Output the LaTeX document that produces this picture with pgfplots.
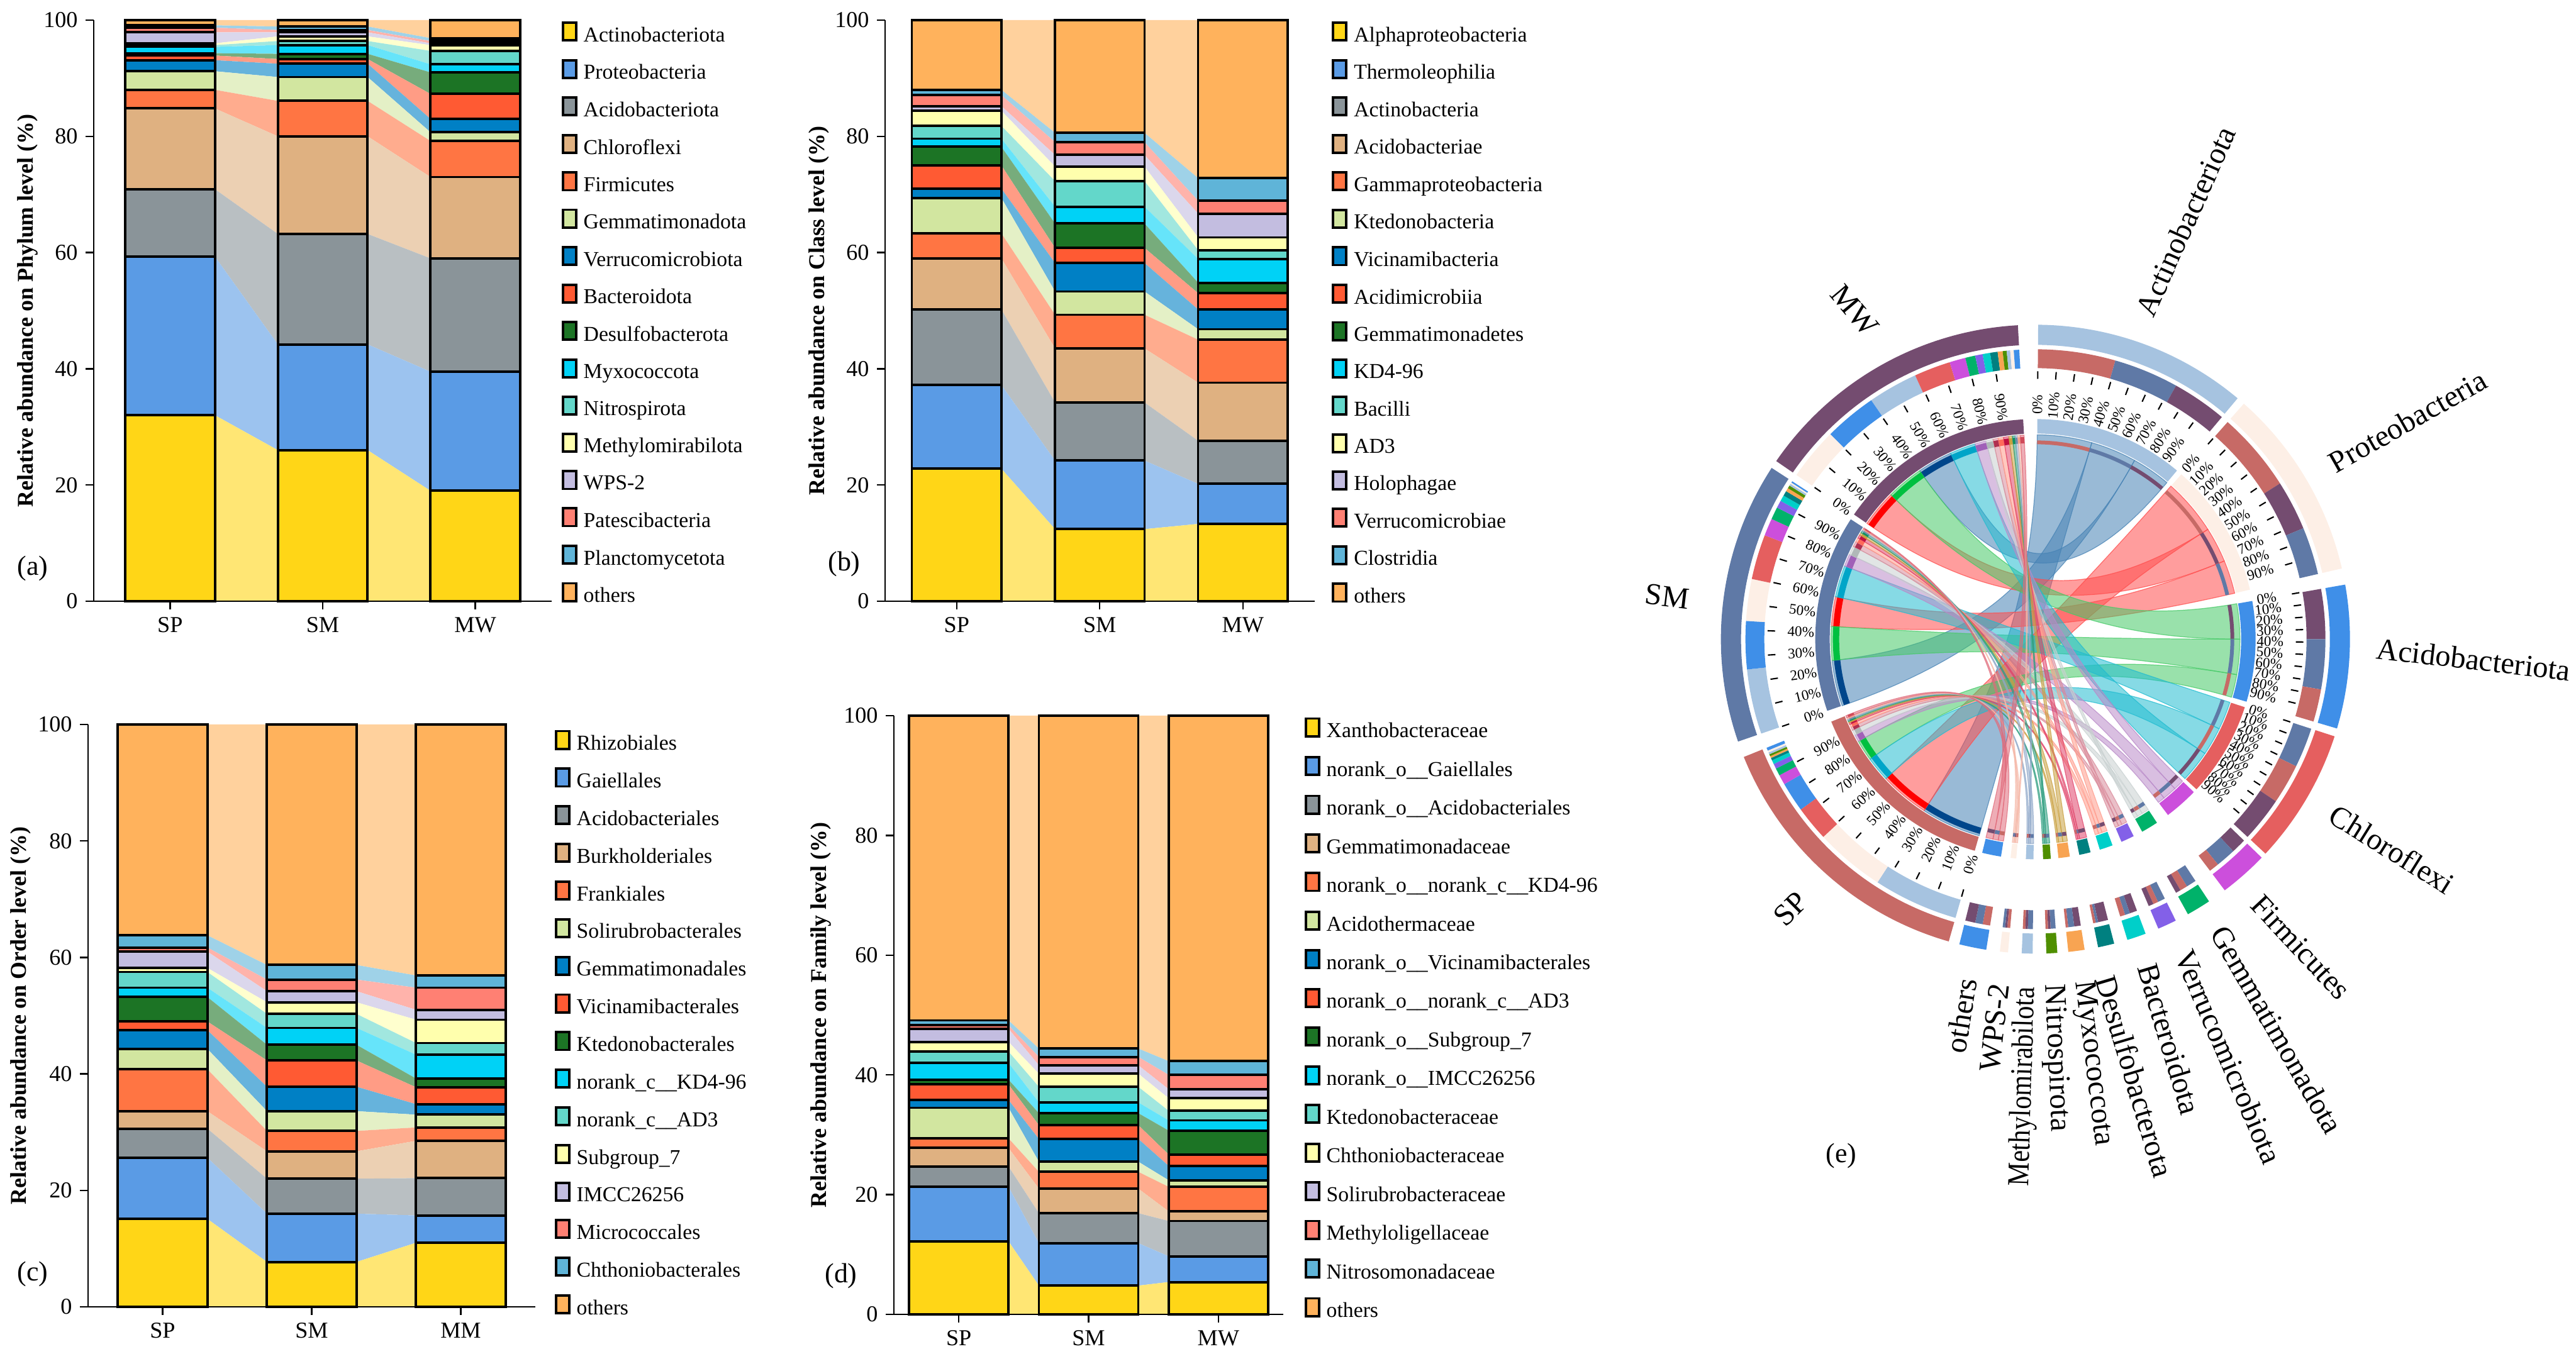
\documentclass[border=0pt]{standalone}
\usepackage{fontspec}
\setmainfont{Liberation Serif}
\usepackage{pgfplots}
\usepackage{pgfplotstable}
\pgfplotsset{compat=1.18}

% stacked bar colours, bottom to top
\definecolor{c1}{HTML}{FFD617}
\definecolor{c2}{HTML}{5A9BE5}
\definecolor{c3}{HTML}{8A9499}
\definecolor{c4}{HTML}{DFB181}
\definecolor{c5}{HTML}{FF7543}
\definecolor{c6}{HTML}{D2E6A0}
\definecolor{c7}{HTML}{0080C5}
\definecolor{c8}{HTML}{FF5A33}
\definecolor{c9}{HTML}{1C7425}
\definecolor{c10}{HTML}{00D2F6}
\definecolor{c11}{HTML}{63D7CA}
\definecolor{c12}{HTML}{FFFFAD}
\definecolor{c13}{HTML}{C3BDE0}
\definecolor{c14}{HTML}{FF8073}
\definecolor{c15}{HTML}{5FB4D8}
\definecolor{c16}{HTML}{FFB25C}

% chord colours
\definecolor{ringSP}{HTML}{C76A66}
\definecolor{ringSM}{HTML}{5F79A6}
\definecolor{ringMW}{HTML}{744C70}
\definecolor{ringAc}{HTML}{A6C3E0}\definecolor{chordAc}{HTML}{4682B4}\definecolor{stripAc}{HTML}{00468B}
\definecolor{ringPr}{HTML}{FDEFE6}\definecolor{chordPr}{HTML}{FF4D4D}\definecolor{stripPr}{HTML}{FF0000}
\definecolor{ringAd}{HTML}{3F8FE8}\definecolor{chordAd}{HTML}{45C966}\definecolor{stripAd}{HTML}{00C040}
\definecolor{ringCh}{HTML}{E55F5F}\definecolor{chordCh}{HTML}{22BCD0}\definecolor{stripCh}{HTML}{00A5C8}
\definecolor{ringFi}{HTML}{CC4FDC}\definecolor{chordFi}{HTML}{B98AC8}\definecolor{stripFi}{HTML}{A060B8}
\definecolor{ringGe}{HTML}{00B26A}\definecolor{chordGe}{HTML}{C8D0D0}\definecolor{stripGe}{HTML}{B0B8B8}
\definecolor{ringVe}{HTML}{8360E8}\definecolor{chordVe}{HTML}{D98A9A}\definecolor{stripVe}{HTML}{B03050}
\definecolor{ringBa}{HTML}{00CFC9}\definecolor{chordBa}{HTML}{FF9A8A}\definecolor{stripBa}{HTML}{FF6A5A}
\definecolor{ringDe}{HTML}{008080}\definecolor{chordDe}{HTML}{E0446A}\definecolor{stripDe}{HTML}{C01040}
\definecolor{ringMy}{HTML}{F8A452}\definecolor{chordMy}{HTML}{C9A040}\definecolor{stripMy}{HTML}{C9A040}
\definecolor{ringNi}{HTML}{4F8F00}\definecolor{chordNi}{HTML}{2E9E7F}\definecolor{stripNi}{HTML}{109060}
\definecolor{ringMe}{HTML}{A6C3E0}\definecolor{chordMe}{HTML}{8FA8C9}\definecolor{stripMe}{HTML}{6F88A9}
\definecolor{ringWp}{HTML}{FDEFE6}\definecolor{chordWp}{HTML}{F5B8A8}\definecolor{stripWp}{HTML}{F5A088}
\definecolor{ringOt}{HTML}{3F8FE8}\definecolor{chordOt}{HTML}{E06A7A}\definecolor{stripOt}{HTML}{D04A5A}

% each table: rows SP, SM, SM, MW (SM twice for the bands), xb = bar position, side = edge used by the band
\pgfplotstableread{
xb side s1 s2 s3 s4 s5 s6 s7 s8 s9 s10 s11 s12 s13 s14 s15 s16
0 1 32 27.3 11.6 13.9 3.2 3.2 1.9 0.8 0.4 1.1 0.3 0.3 1.9 0.8 0.4 0.9
1 -1 26 18.2 19 16.8 6.1 4.1 2.3 0.8 0.9 1.5 0.7 0.8 0.7 0.4 0.6 1.1
1 1 26 18.2 19 16.8 6.1 4.1 2.3 0.8 0.9 1.5 0.7 0.8 0.7 0.4 0.6 1.1
2 -1 19 20.5 19.5 14 6.2 1.5 2.3 4.3 3.7 1.4 2.3 1 0.3 0.4 0.5 3.1
}\tabA
\pgfplotstableread{
xb side s1 s2 s3 s4 s5 s6 s7 s8 s9 s10 s11 s12 s13 s14 s15 s16
0 1 22.8 14.4 13 8.8 4.3 6.1 1.6 4 3.2 1.4 2.2 2.6 0.8 1.9 0.9 12
1 -1 12.4 11.8 10 9.3 5.8 4 4.9 2.6 4.2 2.9 4.4 2.5 2 2.2 1.6 19.4
1 1 12.4 11.8 10 9.3 5.8 4 4.9 2.6 4.2 2.9 4.4 2.5 2 2.2 1.6 19.4
2 -1 13.3 6.9 7.4 10 7.4 1.8 3.4 2.8 1.8 4.1 1.5 2.2 4.1 2.2 3.9 27.2
}\tabB
\pgfplotstableread{
xb side s1 s2 s3 s4 s5 s6 s7 s8 s9 s10 s11 s12 s13 s14 s15 s16
0 1 15.1 10.5 5 3 7.2 3.5 3.2 1.5 4.2 1.6 2.7 0.7 2.8 0.7 2.1 36.2
1 -1 7.7 8.3 6 4.7 3.5 3.4 4.2 4.5 2.7 2.9 2.4 2 1.9 2 2.5 41.3
1 1 7.7 8.3 6 4.7 3.5 3.4 4.2 4.5 2.7 2.9 2.4 2 1.9 2 2.5 41.3
2 -1 11 4.7 6.4 6.4 2.3 2.2 1.8 2.9 1.5 4.1 2 4 1.7 3.8 2.1 43.1
}\tabC
\pgfplotstableread{
xb side s1 s2 s3 s4 s5 s6 s7 s8 s9 s10 s11 s12 s13 s14 s15 s16
0 1 12.2 9.1 3.4 3.1 1.6 5.1 1.3 2.6 0.8 2.8 1.9 1.6 2.2 0.6 0.8 50.9
1 -1 4.8 7.1 5 4.1 2.8 1.7 3.8 2.3 2 1.8 2.6 2.2 1.4 1.4 1.4 55.6
1 1 4.8 7.1 5 4.1 2.8 1.7 3.8 2.3 2 1.8 2.6 2.2 1.4 1.4 1.4 55.6
2 -1 5.4 4.3 5.9 1.6 4.1 1.1 2.4 1.9 4 1.7 1.6 2.1 1.5 2.4 2.3 57.7
}\tabD

\newcommand\legfont{\fontsize{9.6}{10}\selectfont}
\newcommand\tickfont{\fontsize{10.3}{11}\selectfont}
\newcommand\ylabfont{\fontsize{10.2}{11}\selectfont\bfseries}
\newcommand\pctfont{\fontsize{6.6}{7}\selectfont}
\newcommand\namefont{\fontsize{13.8}{15}\selectfont}

\pgfplotsset{
  common/.style={anchor=south west,scale only axis,xmin=-0.5,xmax=2.5,ymin=0,ymax=100,clip=false},
  swatch/.style={legend image code/.code={\draw[##1,draw=black,line width=0.85pt] (0cm,-0.15cm) rectangle (0.30cm,0.15cm);}},
  deco/.style={
    axis lines=left,axis line style={-,line width=0.8pt},
    tick align=outside,major tick length=0.13cm,tick style={black,line width=0.7pt},
    xtick={0,1,2},ytick={0,20,40,60,80,100},
    tick label style={font=\tickfont},
    /pgf/number format/assume math mode=true,
    label style={font=\ylabfont},
    swatch,legend cell align=left,
  },
  geoA/.style={at={(1.49cm,11.97cm)},width=7.28cm,height=9.24cm},
  geoB/.style={at={(14.07cm,11.97cm)},width=6.825cm,height=9.24cm},
  geoC/.style={at={(1.40cm,0.75cm)},width=7.11cm,height=9.26cm},
  geoD/.style={at={(14.21cm,0.63cm)},width=6.19cm,height=9.52cm},
  legA/.style={
    xticklabels={SP,SM,MW},
    ylabel={Relative abundance on Phylum level (\%)},
    ylabel style={at={(axis description cs:-0.144,0.5)},anchor=center},
    legend style={at={(axis description cs:1.0206,0.9985)},anchor=north west,draw=none,fill=none,inner sep=0pt,font=\legfont,row sep=0.222cm,column sep=0.10cm,nodes={inner sep=0pt}},
    legend entries={Actinobacteriota,Proteobacteria,Acidobacteriota,Chloroflexi,Firmicutes,Gemmatimonadota,Verrucomicrobiota,Bacteroidota,Desulfobacterota,Myxococcota,Nitrospirota,Methylomirabilota,WPS-2,Patescibacteria,Planctomycetota,others},
  },
  legB/.style={
    xticklabels={SP,SM,MW},
    ylabel={Relative abundance on Class level (\%)},
    ylabel style={at={(axis description cs:-0.154,0.5)},anchor=center},
    legend style={at={(axis description cs:1.0397,0.9985)},anchor=north west,draw=none,fill=none,inner sep=0pt,font=\legfont,row sep=0.222cm,column sep=0.10cm,nodes={inner sep=0pt}},
    legend entries={Alphaproteobacteria,Thermoleophilia,Actinobacteria,Acidobacteriae,Gammaproteobacteria,Ktedonobacteria,Vicinamibacteria,Acidimicrobiia,Gemmatimonadetes,KD4-96,Bacilli,AD3,Holophagae,Verrucomicrobiae,Clostridia,others},
  },
  legC/.style={
    xticklabels={SP,SM,MM},
    ylabel={Relative abundance on Order level (\%)},
    ylabel style={at={(axis description cs:-0.15,0.5)},anchor=center},
    legend style={at={(axis description cs:1.0422,0.9915)},anchor=north west,draw=none,fill=none,inner sep=0pt,font=\legfont,row sep=0.225cm,column sep=0.10cm,nodes={inner sep=0pt}},
    legend entries={Rhizobiales,Gaiellales,Acidobacteriales,Burkholderiales,Frankiales,Solirubrobacterales,Gemmatimonadales,Vicinamibacterales,Ktedonobacterales,norank\_c\_\_KD4-96,norank\_c\_\_AD3,Subgroup\_7,IMCC26256,Micrococcales,Chthoniobacterales,others},
  },
  legD/.style={
    xticklabels={SP,SM,MW},
    ylabel={Relative abundance on Family level (\%)},
    ylabel style={at={(axis description cs:-0.187,0.5)},anchor=center},
    legend style={at={(axis description cs:1.0533,0.9980)},anchor=north west,draw=none,fill=none,inner sep=0pt,font=\legfont,row sep=0.241cm,column sep=0.10cm,nodes={inner sep=0pt}},
    legend entries={Xanthobacteraceae,norank\_o\_\_Gaiellales,norank\_o\_\_Acidobacteriales,Gemmatimonadaceae,norank\_o\_\_norank\_c\_\_KD4-96,Acidothermaceae,norank\_o\_\_Vicinamibacterales,norank\_o\_\_norank\_c\_\_AD3,norank\_o\_\_Subgroup\_7,norank\_o\_\_IMCC26256,Ktedonobacteraceae,Chthoniobacteraceae,Solirubrobacteraceae,Methyloligellaceae,Nitrosomonadaceae,others},
  },
}

% one stacked panel: tinted bands in a hidden axis, the bars and ticks in a second one on top
% #1 geometry style, #2 label style, #3 half bar width in x units, #4 table, #5 bar width
\newcommand\panel[5]{%
  \begin{axis}[common,#1,hide axis,stack plots=y]
    \pgfplotsinvokeforeach{1,2,3,4,5,6,7,8,9,10,11,12,13,14,15,16}{
      \addplot[draw=none,fill=c##1!60!white,no markers] table[x expr=\thisrow{xb}+\thisrow{side}*#3,y=s##1] {#4} \closedcycle;
    }
  \end{axis}
  \begin{axis}[common,#1,deco,#2,ybar stacked,bar width=#5]
    \pgfplotsinvokeforeach{1,2,3,4,5,6,7,8,9,10,11,12,13,14,15,16}{
      \addplot[fill=c##1,draw=black,line width=1.1pt,skip coords between index={2}{3}] table[x=xb,y=s##1] {#4};
    }
  \end{axis}
}

% chord diagram helpers, angles clockwise from the top, 100 px = 1 cm
\newcommand\seg[5]{\fill[#5] ({90-(#1)}:#3cm) arc[start angle={90-(#1)},end angle={90-(#2)},radius=#3cm]
  -- ({90-(#2)}:#4cm) arc[start angle={90-(#2)},end angle={90-(#1)},radius=#4cm] -- cycle;}
\newcommand\sector[3]{\seg{#1}{#2}{5.00}{4.68}{#3}\seg{#1}{#2}{3.50}{3.27}{#3}}
\newcommand\chordctl{0.95cm}
% #1 #2 phylum side, #3 #4 sample side, #5 sample, #6 phylum
\newcommand\link[6]{%
  \fill[fill=chord#6,fill opacity=0.55,draw=chord#6,draw opacity=0.75,line width=0.35pt]
    ({90-(#1)}:3.25cm) arc[start angle={90-(#1)},end angle={90-(#2)},radius=3.25cm]
    .. controls ({90-(#2)}:\chordctl) and ({90-(#3)}:\chordctl) .. ({90-(#3)}:3.25cm)
    arc[start angle={90-(#3)},end angle={90-(#4)},radius=3.25cm]
    .. controls ({90-(#4)}:\chordctl) and ({90-(#1)}:\chordctl) .. cycle;
  \seg{#1}{#2}{4.61}{4.31}{ring#5}\seg{#3}{#4}{4.61}{4.31}{ring#6}
  \seg{#1}{#2}{3.16}{3.10}{ring#5}\seg{#3}{#4}{3.22}{3.12}{strip#6}
}
\newcommand\pctscale[3]{%
  \pgfplotsinvokeforeach{0,10,20,30,40,50,60,70,80,90}{
    \draw[line width=0.6pt] ({90-(#1+(#2-#1)*##1/100)}:4.14cm) -- ({90-(#1+(#2-#1)*##1/100)}:4.26cm);
    \node[font=\pctfont,rotate={#3-(#1+(#2-#1)*##1/100)},inner sep=0pt] at ({90-(#1+(#2-#1)*##1/100)}:3.73cm) {##1\%};
  }
}
\newcommand\name[4]{\node[font=\namefont,rotate=#3,inner sep=0pt] at (axis cs:#1-3236,1016-#2) {#4};}

\begin{document}
\begin{tikzpicture}
\path[use as bounding box] (0,0) rectangle (40.95cm,21.53cm);

\panel{geoA}{legA}{0.294}{\tabA}{1.425cm}
\panel{geoB}{legB}{0.3125}{\tabB}{1.425cm}
\panel{geoC}{legC}{0.30}{\tabC}{1.425cm}
\panel{geoD}{legD}{0.383}{\tabD}{1.58cm}

\node[font=\fontsize{12.5}{14}\selectfont] at (0.52cm,21.53cm-9.04cm) {(a)};
\node[font=\fontsize{12.5}{14}\selectfont] at (13.42cm,21.53cm-8.97cm) {(b)};
\node[font=\fontsize{12.5}{14}\selectfont] at (0.52cm,21.53cm-20.26cm) {(c)};
\node[font=\fontsize{12.5}{14}\selectfont] at (13.37cm,21.53cm-20.29cm) {(d)};
\node[font=\fontsize{12.5}{14}\selectfont] at (29.27cm,21.53cm-18.38cm) {(e)};

% chord panel
\begin{axis}[anchor=south west,at={(26.36cm,4.87cm)},x=0.01cm,y=0.01cm,xmin=-600,xmax=600,ymin=-650,ymax=650,hide axis,clip=false]
\begin{scope}[shift={(axis cs:0,0)}]
  \link{0.5}{16}{196}{213}{SP}{Ac}
  \link{16}{29}{251}{264}{SM}{Ac}
  \link{29}{40}{325.5}{335.5}{MW}{Ac}
  \link{41.5}{57.5}{213}{227}{SP}{Pr}
  \link{57.5}{67.5}{304.5}{315}{MW}{Pr}
  \link{67.5}{77}{273.6}{282}{SM}{Pr}
  \link{80}{90}{315}{325.5}{MW}{Ad}
  \link{90}{100}{264}{273.6}{SM}{Ad}
  \link{100}{106.5}{234}{240}{SP}{Ad}
  \link{108}{116}{282}{291}{SM}{Ch}
  \link{116}{124}{227}{234}{SP}{Ch}
  \link{124}{133}{335.5}{342.8}{MW}{Ch}
  \link{134}{137}{342.8}{346}{MW}{Fi}
  \link{137}{141}{291}{294.5}{SM}{Fi}
  \link{141}{143}{240}{242}{SP}{Fi}
  \link{146.5}{148.5}{294.5}{297}{SM}{Ge}
  \link{148.5}{150}{242}{243.5}{SP}{Ge}
  \link{150}{151}{346}{348}{MW}{Ge}
  \link{153.5}{155}{297}{298.5}{SM}{Ve}
  \link{155}{156}{243.5}{244.5}{SP}{Ve}
  \link{156}{157}{348}{349.5}{MW}{Ve}
  \link{159.5}{161}{349.5}{351}{MW}{Ba}
  \link{161}{162}{298.5}{299.7}{SM}{Ba}
  \link{162}{163}{244.5}{245.3}{SP}{Ba}
  \link{165.5}{167.5}{351}{352.5}{MW}{De}
  \link{167.5}{168}{299.7}{300.7}{SM}{De}
  \link{168}{168.5}{245.3}{245.8}{SP}{De}
  \link{171}{172.3}{352.5}{353.5}{MW}{My}
  \link{172.3}{173.5}{300.7}{301.4}{SM}{My}
  \link{173.5}{174}{245.8}{246.2}{SP}{My}
  \link{176}{177}{301.4}{302}{SM}{Ni}
  \link{177}{177.5}{353.5}{354.3}{MW}{Ni}
  \link{177.5}{178}{246.2}{246.6}{SP}{Ni}
  \link{180.5}{181.5}{302}{302.4}{SM}{Me}
  \link{181.5}{182}{354.3}{355}{MW}{Me}
  \link{182}{182.5}{246.6}{247}{SP}{Me}
  \link{185}{185.6}{247}{247.4}{SP}{Wp}
  \link{185.6}{186}{355}{355.7}{MW}{Wp}
  \link{186}{186.5}{302.4}{302.7}{SM}{Wp}
  \link{189}{190.5}{247.4}{248}{SP}{Ot}
  \link{190.5}{192}{302.7}{303}{SM}{Ot}
  \link{192}{194}{355.7}{356.8}{MW}{Ot}

  \sector{0.5}{40}{ringAc}
  \sector{41.5}{77}{ringPr}
  \sector{80}{106.5}{ringAd}
  \sector{108}{133}{ringCh}
  \sector{134}{143}{ringFi}
  \sector{146.5}{151}{ringGe}
  \sector{153.5}{157}{ringVe}
  \sector{159.5}{163}{ringBa}
  \sector{165.5}{168.5}{ringDe}
  \sector{171}{174}{ringMy}
  \sector{176}{178}{ringNi}
  \sector{180.5}{182.5}{ringMe}
  \sector{185}{186.5}{ringWp}
  \sector{189}{194}{ringOt}
  \sector{196}{248}{ringSP}
  \sector{251}{303}{ringSM}
  \sector{304.5}{356.8}{ringMW}

  \pctscale{0.5}{40}{90}
  \pctscale{41.5}{77}{90}
  \pctscale{80}{106.5}{90}
  \pctscale{108}{133}{90}
  \pctscale{196}{248}{270}
  \pctscale{251}{303}{270}
  \pctscale{304.5}{356.8}{270}
\end{scope}
  \name{3475}{351}{66}{Actinobacteriota}
  \name{3828}{669}{29.6}{Proteobacteria}
  \name{3933}{1048}{-6.6}{Acidobacteriota}
  \name{3803}{1350}{-32}{Chloroflexi}
  \name{3658}{1506}{-47}{Firmicutes}
  \name{3620}{1637}{-60}{Gemmatimonadota}
  \name{3543}{1680}{-67}{Verrucomicrobiota}
  \name{3449}{1652}{-73.4}{Bacteroidota}
  \name{3394}{1712}{-73.5}{Desulfobacterota}
  \name{3327}{1691}{-83}{Myxococcota}
  \name{3268}{1682}{-87.5}{Nitrospirota}
  \name{3218}{1728}{88.4}{\scalebox{0.87}[1]{Methylomirabilota}}
  \name{3171}{1634}{83.4}{WPS-2}
  \name{3118}{1615}{81}{others}
  \name{2846}{1445}{45}{SP}
  \name{2650}{948}{-7}{SM}
  \name{2948}{493}{-50}{MW}
\end{axis}
\end{tikzpicture}
\end{document}
